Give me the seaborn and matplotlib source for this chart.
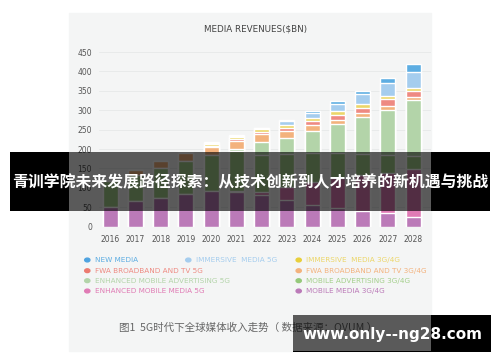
import matplotlib
matplotlib.use("Agg")
import matplotlib.pyplot as plt
from matplotlib.patches import Rectangle
import numpy as np
import pandas as pd
import seaborn as sns

# dados (bilhoes de USD), de baixo para cima
anos = ["2016", "2017", "2018", "2019", "2020", "2021", "2022",
        "2023", "2024", "2025", "2026", "2027", "2028"]
mobile_media_4g = [50, 65, 75, 83, 91, 90, 82, 69, 57, 48, 41, 35, 26]
enh_mobile_media_5g = [0, 0, 0, 0, 0, 2, 8, 34, 58, 78, 92, 104, 122]
mobile_adv_4g = [68, 68, 77, 87, 94, 104, 95, 85, 75, 65, 55, 45, 35]
enh_mobile_adv_5g = [0, 0, 0, 0, 0, 4, 33, 41, 57, 73, 94, 117, 143]
fwa_4g = [3, 12, 17, 19, 21, 22, 21, 18, 14, 11, 12, 10, 9]
fwa_5g = [0, 0, 0, 0, 1, 3, 4, 7, 11, 13, 13, 19, 15]
immersive_4g = [0, 0, 0, 2, 5, 5, 8, 9, 7, 10, 10, 7, 7]
immersive_5g = [0, 0, 0, 0, 3, 4, 3, 9, 14, 19, 25, 33, 41]
new_media = [1, 1, 1, 2, 2, 2, 1, 3, 5, 6, 8, 14, 21]

series = [
    ("MOBILE MEDIA 3G/4G", mobile_media_4g, "#bb7ab8"),
    ("ENHANCED MOBILE MEDIA 5G", enh_mobile_media_5g, "#e07bb5"),
    ("MOBILE ADVERTISING 3G/4G", mobile_adv_4g, "#a3cf8a"),
    ("ENHANCED MOBILE ADVERTISING 5G", enh_mobile_adv_5g, "#b3d4a9"),
    ("FWA BROADBAND AND TV 3G/4G", fwa_4g, "#f3b27d"),
    ("FWA BROADBAND AND TV 5G", fwa_5g, "#ee8a82"),
    ("IMMERSIVE  MEDIA 3G/4G", immersive_4g, "#ecd669"),
    ("IMMERSIVE  MEDIA 5G", immersive_5g, "#a5cdee"),
    ("NEW MEDIA", new_media, "#5dade2"),
]

sns.set_style("white")
plt.rcParams["font.family"] = ["DejaVu Sans"]

fig = plt.figure(figsize=(5, 3.62), dpi=100)
W, H = 500, 362

def fx(px):
    return px / W

def fy(py):
    return 1 - py / H

# painel cinza claro
fig.add_artist(Rectangle((fx(69), fy(351)), fx(431) - fx(69), fy(13) - fy(351),
                         transform=fig.transFigure, color="#f4f5f5", zorder=0))

ax = fig.add_axes([fx(99), fy(226.7), fx(431) - fx(99), fy(48.2) - fy(226.7)])
ax.set_facecolor("none")

# barras empilhadas: desenha os acumulados do maior para o menor
df = pd.DataFrame({nome: vals for nome, vals, _ in series}, index=anos)
acum = df.cumsum(axis=1)
for nome, _, cor in reversed(series):
    sns.barplot(x=anos, y=acum[nome].values, color=cor, saturation=1,
                width=0.6, ax=ax, zorder=2)

ax.set_ylim(0, 460)
ax.set_xlim(-0.44, 12.71)
ax.set_yticks(range(0, 451, 50))
ax.yaxis.grid(True, color="#e6e8e8", lw=0.6, zorder=0)
ax.set_axisbelow(True)
for s in ax.spines.values():
    s.set_visible(False)
ax.tick_params(axis="both", length=0, labelsize=5.5, labelcolor="#555555")
ax.tick_params(axis="y", pad=5)
ax.tick_params(axis="x", pad=6)
ax.set_xlabel("")
ax.set_ylabel("")

fig.text(fx(256), fy(29), "MEDIA REVENUES($BN)", ha="center", va="center",
         fontsize=6.3, color="#444444")

# legenda manual (tres colunas)
leg_pos = {
    "NEW MEDIA": (87.3, 260),
    "IMMERSIVE  MEDIA 5G": (188.3, 260),
    "IMMERSIVE  MEDIA 3G/4G": (298.7, 260),
    "FWA BROADBAND AND TV 5G": (87.3, 270.7),
    "FWA BROADBAND AND TV 3G/4G": (298.7, 270.7),
    "ENHANCED MOBILE ADVERTISING 5G": (87.3, 280.7),
    "MOBILE ADVERTISING 3G/4G": (298.7, 280.7),
    "ENHANCED MOBILE MEDIA 5G": (87.3, 291),
    "MOBILE MEDIA 3G/4G": (298.7, 291),
}
leg_dot = {"MOBILE ADVERTISING 3G/4G": "#95c97a", "IMMERSIVE  MEDIA 3G/4G": "#e8cf3a",
           "FWA BROADBAND AND TV 5G": "#ec7b70", "NEW MEDIA": "#4fa3e0"}
for nome, _, cor in series:
    px, py = leg_pos[nome]
    fig.add_artist(plt.Circle((fx(px), fy(py)), 2.6 / W, transform=fig.transFigure,
                              color=leg_dot.get(nome, cor), zorder=3))
    fig.text(fx(px + 7.5), fy(py), nome, ha="left", va="center",
             fontsize=5.2, color=cor, zorder=3)

fig.text(fx(119), fy(327.7), "图1  5G时代下全球媒体收入走势（ 数据来源：OVUM ）",
         ha="left", va="center", fontsize=7.6, color="#666666",
         family=["Noto Sans CJK SC", "DejaVu Sans"])

# faixa preta com titulo
def faixa(x0, x1, y0, y1, dentro):
    fig.add_artist(Rectangle((fx(x0), fy(y1)), fx(x1) - fx(x0), fy(y0) - fy(y1),
                             transform=fig.transFigure, color="black",
                             alpha=0.63 if dentro else 1.0, lw=0, zorder=5))

faixa(10, 69, 151.5, 210.5, False)
faixa(69, 431, 151.5, 210.5, True)
faixa(431, 490, 151.5, 210.5, False)
fig.text(0.5, fy(182), "青训学院未来发展路径探索：从技术创新到人才培养的新机遇与挑战",
         ha="center", va="center", fontsize=11.4, color="white", fontweight="bold",
         family=["Noto Sans CJK SC", "DejaVu Sans"], zorder=6)

# marca d'agua
faixa(293, 431, 315, 351, True)
faixa(431, 491, 315, 352, False)
faixa(293, 431, 351, 352, False)
fig.text(fx(392), fy(334), "www.only--ng28.com", ha="center", va="center",
         fontsize=11, color="white", fontweight="bold", zorder=6)

fig.savefig("out.png", dpi=100)
